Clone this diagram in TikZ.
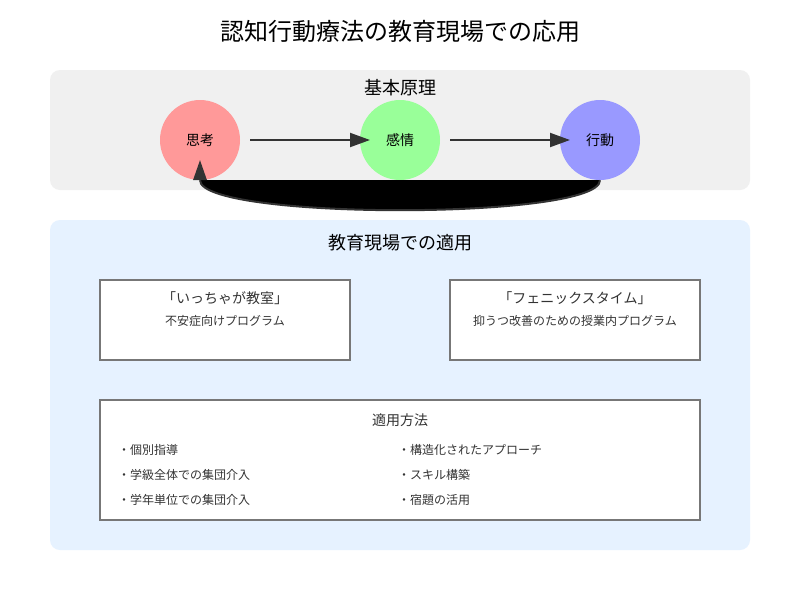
\documentclass[tikz,border=0pt]{standalone}
\usepackage{fontspec}
\setmainfont{Noto Sans CJK JP}
\usetikzlibrary{arrows.meta,calc}
\definecolor{txt}{HTML}{333333}
\definecolor{panelgray}{HTML}{F0F0F0}
\definecolor{panelblue}{HTML}{E6F2FF}
\definecolor{boxline}{HTML}{777777}
\definecolor{cpink}{HTML}{FF9999}
\definecolor{cgreen}{HTML}{99FF99}
\definecolor{cblue}{HTML}{9999FF}
\newcommand{\fsz}[1]{\fontsize{#1}{#1}\selectfont}
\tikzset{
  panel/.style={fill=#1, draw=none, rounded corners=10pt, minimum width=700pt, inner sep=0pt},
  concept/.style={circle, fill=#1, draw=none, minimum size=80pt, inner sep=0pt, text=black, font=\fsz{14}},
  progbox/.style={fill=white, draw=boxline, line width=1.3pt, inner sep=0pt},
  lbl/.style={inner sep=0pt, text=txt},
  item/.style={inner sep=0pt, anchor=west, text=txt, font=\fsz{12}},
  flow/.style={draw=txt, line width=2pt, -{Triangle[length=20pt,width=14pt]}},
}
\begin{document}
\begin{tikzpicture}[x=1pt,y=-1pt]
\useasboundingbox (0,0) rectangle (800,600);
\fill[white] (0,0) rectangle (800,600);
% title
\node[lbl, text=black, font=\fsz{24}] (title) at (400,31) {認知行動療法の教育現場での応用};
% basic principle panel
\node[panel=panelgray, minimum height=120pt] (p1) at (400,130) {};
\node[lbl, text=black, font=\fsz{18}] (p1t) at (400,88) {基本原理};
\node[concept=cpink] (think) at (200,140) {思考};
\node[concept=cgreen] (feel) at (400,140) {感情};
\node[concept=cblue] (act) at (600,140) {行動};
\coordinate (a1s) at (250,140);
\coordinate (a1e) at (370,140);
\coordinate (a2s) at (450,140);
\coordinate (a2e) at (570,140);
\draw[flow] (a1s) -- (a1e);
\draw[flow] (a2s) -- (a2e);
% feedback curve
\fill[black] (act.south) .. controls ($(act.south)+(0,40)$) and ($(think.south)+(0,40)$) .. (think.south) -- cycle;
\draw[txt, line width=2pt] (act.south) .. controls ($(act.south)+(0,40)$) and ($(think.south)+(0,40)$) .. (think.south);
\fill[txt] ($(think.south)+(0,-20)$) -- ($(think.south)+(-7,0)$) -- ($(think.south)+(7,0)$) -- cycle;
% application panel
\node[panel=panelblue, minimum height=330pt] (p2) at (400,385) {};
\node[lbl, text=black, font=\fsz{18}] (p2t) at (400,243) {教育現場での適用};
\node[progbox, minimum width=250pt, minimum height=80pt] (b1) at (225,320) {};
\node[lbl, font=\fsz{14}] (b1t) at (225,298) {「いっちゃが教室」};
\node[lbl, font=\fsz{12}] (b1s) at (225,321) {不安症向けプログラム};
\node[progbox, minimum width=250pt, minimum height=80pt] (b2) at (575,320) {};
\node[lbl, font=\fsz{14}] (b2t) at (575,298) {「フェニックスタイム」};
\node[lbl, font=\fsz{12}] (b2s) at (575,321) {抑うつ改善のための授業内プログラム};
\node[progbox, minimum width=600pt, minimum height=120pt] (b3) at (400,460) {};
\node[lbl, font=\fsz{14}] (b3t) at (400,420) {適用方法};
\node[item] (i1) at (118,450) {・個別指導};
\node[item] (i2) at (118,475) {・学級全体での集団介入};
\node[item] (i3) at (118,500) {・学年単位での集団介入};
\node[item] (i4) at (398,450) {・構造化されたアプローチ};
\node[item] (i5) at (398,475) {・スキル構築};
\node[item] (i6) at (398,500) {・宿題の活用};
\end{tikzpicture}
\end{document}
